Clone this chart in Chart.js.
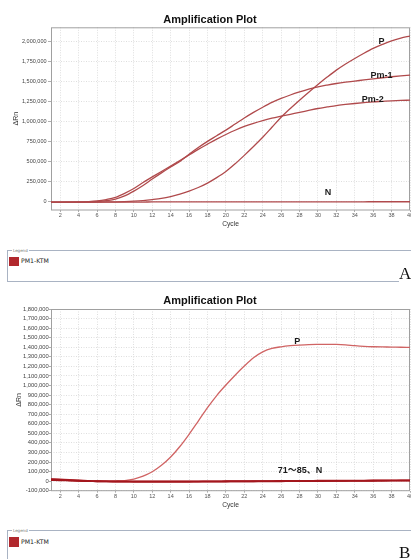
<!DOCTYPE html>
<html>
<head>
<meta charset="utf-8">
<script src="https://cdn.jsdelivr.net/npm/chart.js@4.4.1/dist/chart.umd.min.js"></script>
<style>
html,body{margin:0;padding:0;background:#fff;width:411px;height:559px;overflow:hidden;position:relative;font-family:"Liberation Sans",Arial,sans-serif}
.cw{position:absolute;left:0;width:411px}
#wA{top:0;height:232px}
#wB{top:282px;height:230px}
.box{position:absolute;left:7px;width:520px;border-left:1px solid #a9b3c3;border-top:1px solid #a9b3c3}
#boxA{top:250px;height:30px;border-bottom:1px solid #a9b3c3}
#boxB{top:530px;height:60px}
.lgtitle{position:absolute;top:-3px;left:4px;font-size:4px;line-height:5px;color:#777;background:#fff;padding:0 1px;font-family:"DejaVu Sans",sans-serif}
.sw{position:absolute;left:0.5px;width:10px;height:9.5px;background:#b1282d}
.lgtext{position:absolute;left:13px;font-size:6.2px;line-height:8px;color:#222;font-family:"DejaVu Sans",sans-serif}
.tag{position:absolute;left:399px;font-family:"Liberation Serif",serif;font-size:17px;line-height:17px;color:#111;background:#fff;padding-right:4px}
</style>
</head>
<body>
<div class="cw" id="wA"><canvas id="cA"></canvas></div>
<div class="cw" id="wB"><canvas id="cB"></canvas></div>
<div class="box" id="boxA"><span class="lgtitle">Legend</span><div class="sw" style="top:5.5px"></div><div class="lgtext" style="top:6px">PM1-KTM</div></div>
<div class="box" id="boxB"><span class="lgtitle">Legend</span><div class="sw" style="top:6px"></div><div class="lgtext" style="top:6.5px">PM1-KTM</div></div>
<div class="tag" style="top:265px">A</div>
<div class="tag" style="top:544px">B</div>
<script>
// ---------- shared ----------
const cycles = [1,2,3,4,5,6,7,8,9,10,11,12,13,14,15,16,17,18,19,20,21,22,23,24,25,26,27,28,29,30,31,32,33,34,35,36,37,38,39,40];
const cycleTicks = [2,4,6,8,10,12,14,16,18,20,22,24,26,28,30,32,34,36,38,40];

// ---------- chart A ----------
const aTicks = [0,250000,500000,750000,1000000,1250000,1500000,1750000,2000000];
const aP = [-3000,-3000,-3000,-3000,-2000,-1000,0,2000,5000,10000,18000,30000,45000,68000,98000,135000,180000,235000,303000,380000,475000,580000,690000,805000,930000,1055000,1165000,1268000,1367000,1463000,1555000,1642000,1718000,1787000,1852000,1912000,1962000,2007000,2040000,2066000];
const aPm1 = [-4000,-4000,-3000,-2000,0,5000,16000,35000,75000,135000,205000,285000,362000,435000,505000,595000,678000,755000,825000,895000,970000,1045000,1115000,1180000,1240000,1290000,1332000,1370000,1405000,1434000,1456000,1475000,1491000,1505000,1520000,1534000,1547000,1559000,1570000,1580000];
const aPm2 = [-3000,-3000,-2000,0,4000,12000,30000,58000,108000,168000,242000,312000,380000,447000,515000,585000,655000,720000,783000,840000,893000,940000,980000,1014000,1043000,1068000,1092000,1115000,1140000,1164000,1183000,1201000,1214000,1226000,1237000,1247000,1253000,1259000,1264000,1268000];
const aN = [-3000,-3000,-3000,-3000,-2000,-2000,-2000,-1000,-1000,-1000,-1000,0,0,0,0,0,0,0,0,0,0,0,1000,1000,1000,1000,1000,1000,2000,2000,2000,2000,2000,2000,2000,3000,3000,3000,3000,3000];
const aLabels = [
  {text:'P', x:36.9, y:1995000},
  {text:'Pm-1', x:36.9, y:1576000},
  {text:'Pm-2', x:35.96, y:1281000},
  {text:'N', x:31.1, y:121000}
];

// ---------- chart B ----------
const bTicks = [-100000,0,100000,200000,300000,400000,500000,600000,700000,800000,900000,1000000,1100000,1200000,1300000,1400000,1500000,1600000,1700000,1800000];
const bP = [12000,10000,6000,3000,1000,0,-1000,1000,6000,22000,52000,98000,165000,252000,362000,490000,628000,768000,895000,1005000,1108000,1204000,1290000,1352000,1388000,1405000,1416000,1423000,1428000,1430000,1431000,1430000,1425000,1416000,1409000,1405000,1403000,1402000,1400000,1399000];
const bNeg1 = [18000,15000,10000,5000,1000,-2000,-3000,-4000,-4000,-5000,-5000,-5000,-5000,-5000,-5000,-5000,-4000,-4000,-4000,-3000,-3000,-2000,-2000,-1000,-1000,0,0,1000,1000,2000,2000,3000,3000,4000,4000,5000,5000,6000,6000,7000];
const bNeg2 = [10000,8000,5000,2000,0,-2000,-4000,-5000,-6000,-6000,-6000,-6000,-6000,-6000,-6000,-6000,-6000,-5000,-5000,-5000,-4000,-4000,-3000,-3000,-2000,-2000,-1000,-1000,0,0,1000,1000,2000,2000,3000,3000,4000,4000,5000,5000];
const bN = [22000,19000,14000,8000,3000,0,-1000,-2000,-3000,-3000,-3000,-3000,-3000,-3000,-2000,-2000,-2000,-1000,-1000,0,0,1000,1000,2000,2000,3000,3000,4000,4000,5000,5000,6000,6000,7000,7000,8000,8000,9000,9000,10000];
const bLabels = [
  {text:'P', x:27.76, y:1464000},
  {text:'71～85、N', x:28.05, y:112000}
];

const pts = arr => cycles.map((c,i)=>({x:c, y:arr[i]}));
const fmt = v => Number(v).toLocaleString('en-US');

const decor = {
  id:'decor',
  beforeDatasetsDraw(chart, args, o){
    const {ctx, chartArea:{left,top,right,bottom}} = chart;
    ctx.save();
    ctx.strokeStyle = '#a0a0a0'; ctx.lineWidth = 1;
    ctx.strokeRect(left+0.5, top+0.5, right-left-1, bottom-top-0.5);
    ctx.restore();
  },
  afterDraw(chart, args, o){
    const {ctx} = chart;
    const xs = chart.scales.x, ys = chart.scales.y;
    ctx.save();
    ctx.fillStyle = '#111'; ctx.textAlign = 'center'; ctx.textBaseline = 'middle';
    ctx.font = 'bold 11px "Liberation Sans", Arial, sans-serif';
    ctx.fillText(o.title, o.titleX, o.titleY);
    ctx.font = 'bold 9px "Liberation Sans", "Noto Sans CJK SC", sans-serif';
    ctx.fillStyle = '#1a1a1a';
    o.labels.forEach(l => ctx.fillText(l.text, xs.getPixelForValue(l.x), ys.getPixelForValue(l.y)));
    ctx.restore();
  }
};

function noPad(s){ s.paddingLeft = 0; s.paddingRight = 0; s.paddingTop = 0; s.paddingBottom = 0; }

function build(id, H, plotTop, plotBottom, ymin, ymax, yTicks, datasets, o){
  return new Chart(document.getElementById(id), {
    type:'line',
    data:{datasets},
    options:{
      responsive:true, maintainAspectRatio:false, animation:false,
      devicePixelRatio:1,
      layout:{autoPadding:false, padding:{left:0, right:1, top:plotTop, bottom:0}},
      plugins:{legend:{display:false}, tooltip:{enabled:false}, title:{display:false}, decor:o},
      elements:{point:{radius:0}, line:{cubicInterpolationMode:'monotone', borderWidth:1.3}},
      scales:{
        x:{
          type:'linear', min:1, max:40,
          afterBuildTicks: s => { s.ticks = cycleTicks.map(v=>({value:v})); },
          afterFit: s => { s.height = H - plotBottom; noPad(s); },
          ticks:{font:{size:5.5, family:'"Liberation Sans", Arial'}, color:'#555', padding:o.xPad, autoSkip:false, maxRotation:0},
          grid:{color:'#d6d6d6', lineWidth:0.8, tickLength:2, tickColor:'#999'},
          border:{display:false, dash:[1,1.5]},
          title:{display:true, text:'Cycle', font:{size:6.7, family:'"Liberation Sans", Arial'}, color:'#333', padding:{top:0, bottom:o.cyclePad}}
        },
        y:{
          type:'linear', min:ymin, max:ymax,
          afterBuildTicks: s => { s.ticks = yTicks.map(v=>({value:v})); },
          afterFit: s => { s.width = 51; noPad(s); },
          ticks:{font:{size:o.yFont, family:'"Liberation Sans", Arial'}, color:'#444', padding:o.yPad, autoSkip:false, callback: v => fmt(v)},
          grid:{color:'#d6d6d6', lineWidth:0.8, tickLength:o.yTick, tickColor:'#999'},
          border:{display:false, dash:[1,1.5]},
          title:{display:true, text:'ΔRn', font:{size:7, family:'"Liberation Sans", Arial'}, color:'#333', padding:{top:o.rnPad, bottom:0}}
        }
      }
    },
    plugins:[decor]
  });
}

const cA = '#b04a4c';
build('cA', 232, 27.3, 210, -100000, 2175000, aTicks, [
  {label:'N', data:pts(aN), borderColor:cA},
  {label:'P', data:pts(aP), borderColor:cA},
  {label:'Pm-1', data:pts(aPm1), borderColor:cA},
  {label:'Pm-2', data:pts(aPm2), borderColor:cA}
], {title:'Amplification Plot', titleX:210, titleY:19.5, labels:aLabels, xPad:0, cyclePad:3.8, yFont:5.5, yPad:1.5, yTick:3, rnPad:11.4});

build('cB', 230, 27, 208.7, -100000, 1800000, bTicks, [
  {label:'71', data:pts(bNeg1), borderColor:'#a3161d', borderWidth:1.6},
  {label:'72', data:pts(bNeg2), borderColor:'#a3161d', borderWidth:1.6},
  {label:'N', data:pts(bN), borderColor:'#b0252b', borderWidth:1.6},
  {label:'P', data:pts(bP), borderColor:'#d06464', borderWidth:1.3}
], {title:'Amplification Plot', titleX:210, titleY:19, labels:bLabels, xPad:0.7, cyclePad:2.5, yFont:5.8, yPad:0.3, yTick:2, rnPad:15});
</script>
</body>
</html>
